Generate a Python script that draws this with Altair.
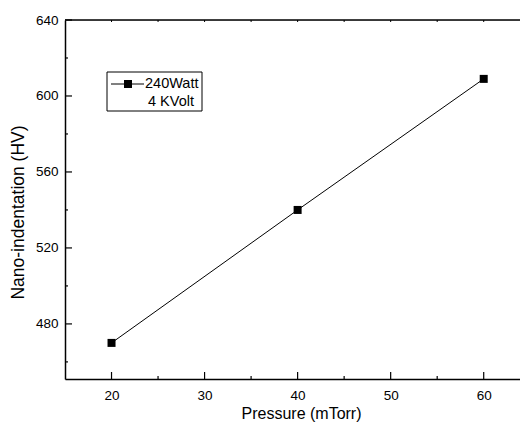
import altair as alt
import pandas as pd

# ---- data ----
pressure = [20, 40, 60]
hardness = [470, 540, 609]
x_major = [20, 30, 40, 50, 60]
x_minor = [25, 35, 45, 55]
y_major = [480, 520, 560, 600, 640]
y_minor = [460, 500, 540, 580, 620]
legend_lines = ["240Watt", "4 KVolt"]
x_domain = [15, 63.9]
y_domain = [451, 640]

W, H = 455, 359
FONT = "Liberation Sans"

df = pd.DataFrame({"p": pressure, "h": hardness})
xs = alt.Scale(domain=x_domain, nice=False, zero=False)
ys = alt.Scale(domain=y_domain, nice=False, zero=False)

x_axis = alt.Axis(values=x_major, title="Pressure (mTorr)", tickSize=0, grid=False,
                  labelPadding=9, titlePadding=4, labelFontSize=13.5, titleFontSize=16,
                  titleX=236,
                  labelFont=FONT, titleFont=FONT, titleFontWeight="normal",
                  domainColor="black", domainWidth=1.5, labelColor="black", titleColor="black")
y_axis = alt.Axis(values=y_major, title="Nano-indentation (HV)", tickSize=0, grid=False,
                  labelPadding=7, titlePadding=8, labelFontSize=13.5, titleFontSize=17.5,
                  titleY=192,
                  labelFont=FONT, titleFont=FONT, titleFontWeight="normal",
                  domainColor="black", domainWidth=1.5, labelColor="black", titleColor="black")

X = lambda f: alt.X(f, scale=xs, axis=x_axis)
Y = lambda f: alt.Y(f, scale=ys, axis=y_axis)

line = alt.Chart(df).mark_line(color="black", strokeWidth=1).encode(x=X("p:Q"), y=Y("h:Q"))
pts = alt.Chart(df).mark_point(shape="square", filled=True, size=64, color="black", opacity=1).encode(
    x=X("p:Q"), y=Y("h:Q"))

def xticks(vals, length):
    return alt.Chart(pd.DataFrame({"p": vals})).mark_rule(color="black", strokeWidth=1.2).encode(
        x=X("p:Q"), y=alt.value(H), y2=alt.value(H - length))

def xticks_top(vals, length):
    return alt.Chart(pd.DataFrame({"p": vals})).mark_rule(color="black", strokeWidth=1).encode(
        x=X("p:Q"), y=alt.value(0), y2=alt.value(length))

def yticks(vals, length):
    return alt.Chart(pd.DataFrame({"h": vals})).mark_rule(color="black", strokeWidth=1.2).encode(
        y=Y("h:Q"), x=alt.value(0), x2=alt.value(length))

one = pd.DataFrame({"a": [0]})
top_border = alt.Chart(one).mark_rule(color="black", strokeWidth=1.5).encode(
    x=alt.value(0), x2=alt.value(W), y=alt.value(0))

legend_box = alt.Chart(one).mark_rect(fill="white", stroke="black", strokeWidth=1).encode(
    x=alt.value(42), x2=alt.value(137), y=alt.value(52), y2=alt.value(91))
legend_line = alt.Chart(one).mark_rule(color="black", strokeWidth=1).encode(
    x=alt.value(46), x2=alt.value(79), y=alt.value(64))
legend_pt = alt.Chart(one).mark_point(shape="square", filled=True, size=64, color="black", opacity=1).encode(
    x=alt.value(63), y=alt.value(64))
legend_t1 = alt.Chart(pd.DataFrame({"t": [legend_lines[0]]})).mark_text(
    align="left", baseline="middle", font=FONT, fontSize=14.5, color="black").encode(
    text="t:N", x=alt.value(80), y=alt.value(64))
legend_t2 = alt.Chart(pd.DataFrame({"t": [legend_lines[1]]})).mark_text(
    align="left", baseline="middle", font=FONT, fontSize=14.5, color="black").encode(
    text="t:N", x=alt.value(83), y=alt.value(82))

chart = alt.layer(
    line, pts,
    xticks(x_major, 7), xticks(x_minor, 3),
    xticks_top(x_major + x_minor, 2),
    yticks(y_major, 7), yticks(y_minor, 3),
    top_border,
    legend_box, legend_line, legend_pt, legend_t1, legend_t2,
).properties(
    width=W, height=H,
    autosize=alt.AutoSizeParams(type="none"),
    padding={"left": 57, "top": 12, "right": 0, "bottom": 43},
).configure_view(stroke=None).configure(background="white")

chart.save("out.html", embed_options={"renderer": "svg", "actions": False})
